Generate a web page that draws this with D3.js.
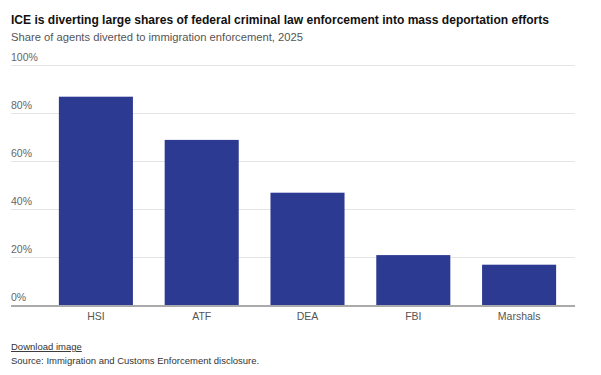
<!DOCTYPE html>
<html>
<head>
<meta charset="utf-8">
<script src="https://cdn.jsdelivr.net/npm/d3@7"></script>
<style>
  html, body { margin: 0; padding: 0; background: #fff; }
  svg { display: block; font-family: "Liberation Sans", Arial, sans-serif; }
</style>
</head>
<body>
<svg id="chart" width="601" height="375"></svg>
<script>
const categories = ["HSI", "ATF", "DEA", "FBI", "Marshals"];
const values = [87, 69, 47, 21, 17];
const yTicks = [0, 20, 40, 60, 80, 100];
const yTickLabels = ["0%", "20%", "40%", "60%", "80%", "100%"];

const svg = d3.select("#chart");
const left = 11, right = 575;
const y = d3.scaleLinear().domain([0, 100]).range([305.5, 65.5]);
const x = d3.scaleBand().domain(categories).range([43, 572]).paddingInner(0.3).paddingOuter(0.15);

svg.append("text").attr("x", 11).attr("y", 24)
  .attr("font-size", 12.5).attr("font-weight", "bold").attr("fill", "#111")
  .attr("textLength", 538).attr("lengthAdjust", "spacingAndGlyphs")
  .text("ICE is diverting large shares of federal criminal law enforcement into mass deportation efforts");
svg.append("text").attr("x", 11).attr("y", 41)
  .attr("font-size", 11).attr("fill", "#555")
  .attr("textLength", 292).attr("lengthAdjust", "spacingAndGlyphs")
  .text("Share of agents diverted to immigration enforcement, 2025");

// gridlines
const grid = svg.append("g");
yTicks.forEach((t, i) => {
  if (t > 0) {
    grid.append("line").attr("x1", left).attr("x2", right)
      .attr("y1", y(t)).attr("y2", y(t))
      .attr("stroke", "#e5e5e5").attr("stroke-width", 1);
  }
  grid.append("text").attr("x", left).attr("y", y(t) - 5)
    .attr("font-size", 10.5).attr("fill", "#666").text(yTickLabels[i]);
});

// bars
svg.append("g").selectAll("rect").data(categories).join("rect")
  .attr("x", d => x(d))
  .attr("width", x.bandwidth())
  .attr("y", (d, i) => y(values[i]))
  .attr("height", (d, i) => y(0) - y(values[i]))
  .attr("fill", "#2d3a91");

// baseline axis
svg.append("line").attr("x1", left).attr("x2", right)
  .attr("y1", y(0) + 0.5).attr("y2", y(0) + 0.5)
  .attr("stroke", "#aaa").attr("stroke-width", 2);

// x axis labels
const xAxis = d3.axisBottom(x).tickSize(0).tickPadding(0);
const gx = svg.append("g").attr("transform", `translate(0,${y(0)})`).call(xAxis);
gx.select(".domain").remove();
gx.selectAll("text").attr("font-size", 10.5).attr("fill", "#555")
  .attr("font-family", "Liberation Sans, Arial, sans-serif").attr("dy", "1.35em");

// footer
svg.append("text").attr("x", 11).attr("y", 350)
  .attr("font-size", 9.5).attr("fill", "#333")
  .attr("text-decoration", "underline").text("Download image");
svg.append("text").attr("x", 11).attr("y", 364)
  .attr("font-size", 9.5).attr("fill", "#333")
  .text("Source: Immigration and Customs Enforcement disclosure.");
</script>
</body>
</html>
